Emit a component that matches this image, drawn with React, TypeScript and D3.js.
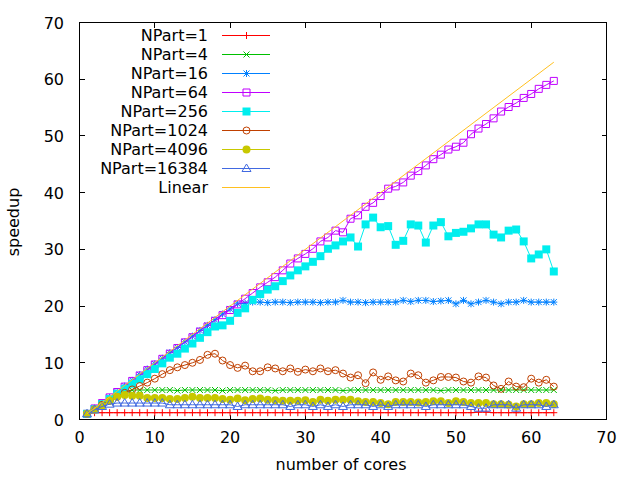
import { useRef, useEffect } from "react";
import * as d3 from "d3";

// number of cores on the x axis
const cores = d3.range(1, 64);

const np1 = [
    1.0, 1.2, 1.2, 1.2, 1.2, 1.2, 1.2, 1.2, 1.2, 1.2,
    1.2, 1.2, 1.2, 1.2, 1.2, 1.2, 1.2, 1.2, 1.2, 1.2,
    1.2, 1.2, 1.2, 1.2, 1.2, 1.2, 1.2, 1.2, 1.2, 1.2,
    1.2, 1.2, 1.2, 1.2, 1.2, 1.2, 1.2, 1.2, 1.2, 1.2,
    1.2, 1.2, 1.2, 1.2, 1.2, 1.2, 1.2, 1.2, 1.2, 1.2,
    1.2, 1.2, 1.3, 1.3, 1.2, 1.2, 1.2, 1.2, 1.2, 1.2,
    1.2, 1.2, 1.2,
];

const np4 = [
    1.0, 1.9, 2.8, 3.6, 4.4, 4.9, 5.2, 5.2, 5.2, 5.2,
    5.2, 5.2, 5.1, 5.2, 5.2, 5.2, 5.2, 5.2, 5.1, 5.2,
    5.2, 5.2, 5.2, 5.2, 5.2, 5.1, 5.2, 5.2, 5.2, 5.2,
    5.2, 5.2, 5.2, 5.2, 5.1, 5.2, 5.2, 5.2, 5.2, 5.2,
    5.2, 5.2, 5.2, 5.2, 5.2, 5.2, 5.2, 5.1, 5.2, 5.2,
    5.2, 5.2, 5.2, 5.2, 5.2, 5.2, 5.2, 5.2, 5.2, 5.2,
    5.2, 5.2, 5.2,
];

const np16 = [
    1.0, 2.0, 2.9, 3.9, 4.9, 5.9, 6.9, 7.9, 8.9, 9.8,
    10.8, 11.8, 12.7, 13.7, 14.7, 15.7, 16.6, 17.6, 18.6, 19.5,
    20.4, 20.5, 20.7, 20.7, 20.6, 20.7, 20.7, 20.6, 20.7, 20.7,
    20.7, 20.6, 20.7, 20.7, 21.0, 20.7, 20.7, 20.6, 20.7, 20.7,
    20.7, 20.7, 21.0, 20.8, 21.0, 21.0, 20.8, 20.9, 21.0, 20.4,
    21.0, 20.4, 20.7, 21.0, 20.7, 20.4, 20.7, 20.7, 21.0, 20.7,
    20.7, 20.7, 20.7,
];

const np64 = [
    1.0, 1.95, 2.9, 3.9, 4.85, 5.8, 6.8, 7.75, 8.7, 9.7,
    10.7, 11.6, 12.6, 13.6, 14.5, 15.5, 16.4, 17.4, 18.4, 19.3,
    20.3, 21.3, 22.3, 23.3, 24.2, 25.1, 26.3, 27.5, 28.4, 29.2,
    30.1, 31.4, 32.1, 33.3, 33.0, 35.4, 36.0, 37.5, 38.2, 39.4,
    40.7, 41.1, 41.8, 43.0, 43.8, 44.8, 45.9, 46.7, 47.6, 48.1,
    48.8, 50.3, 51.3, 52.1, 53.1, 54.3, 55.1, 55.8, 56.7, 57.4,
    58.3, 59.0, 59.7,
];

const np256 = [
    1.0, 1.8, 2.7, 3.6, 4.5, 5.4, 6.3, 7.1, 8.0, 8.9,
    9.9, 10.9, 11.6, 12.5, 13.4, 14.4, 15.4, 16.4, 16.6, 17.4,
    18.8, 19.6, 21.1, 22.1, 22.9, 23.5, 24.4, 25.4, 26.3, 27.0,
    27.8, 28.8, 30.1, 30.7, 31.4, 32.1, 30.5, 34.4, 35.6, 33.9,
    34.1, 30.8, 31.5, 34.4, 34.2, 31.2, 34.2, 34.8, 32.3, 32.9,
    33.1, 33.7, 34.4, 34.4, 32.6, 32.1, 33.3, 33.5, 31.4, 28.4,
    29.1, 30.0, 26.1,
];

const np1024 = [
    1.0, 1.8, 2.6, 3.3, 4.0, 4.7, 5.3, 5.9, 6.5, 7.2,
    8.0, 8.7, 9.2, 9.6, 10.0, 10.5, 11.4, 11.6, 10.4, 9.6,
    9.1, 9.5, 8.5, 8.5, 9.2, 9.0, 8.5, 9.0, 8.4, 8.8,
    8.5, 9.0, 8.5, 8.7, 8.1, 7.4, 7.8, 6.4, 8.3, 7.0,
    7.6, 6.9, 6.7, 8.1, 7.8, 6.5, 6.9, 7.5, 7.5, 7.4,
    6.7, 6.5, 7.6, 7.4, 6.0, 5.4, 6.7, 5.8, 5.7, 7.2,
    6.5, 7.0, 5.8,
];

const np4096 = [
    1.0, 1.7, 2.4, 3.3, 4.0, 4.3, 4.2, 4.2, 3.8, 3.8,
    3.8, 3.6, 3.6, 3.8, 4.0, 3.8, 3.8, 3.8, 3.6, 3.5,
    3.7, 3.4, 3.6, 3.7, 3.5, 3.4, 3.3, 3.3, 3.3, 3.4,
    3.1, 3.5, 3.3, 3.5, 3.5, 3.5, 3.2, 3.1, 3.1, 2.9,
    2.7, 3.1, 3.1, 3.1, 3.0, 3.1, 3.2, 3.2, 2.9, 3.2,
    3.1, 2.9, 2.9, 2.9, 2.7, 2.7, 2.6, 2.3, 2.7, 2.7,
    2.9, 2.9, 2.7,
];

const np16384 = [
    1.0, 1.7, 2.3, 2.7, 2.9, 2.9, 2.9, 2.9, 2.9, 2.9,
    2.9, 2.6, 2.6, 2.6, 2.6, 2.6, 2.6, 2.6, 2.6, 2.6,
    2.3, 2.6, 2.6, 2.6, 2.6, 2.6, 2.6, 2.3, 2.6, 2.6,
    2.3, 2.6, 2.3, 2.6, 2.3, 2.6, 2.6, 2.6, 2.3, 2.6,
    2.3, 2.6, 2.6, 2.6, 2.6, 2.3, 2.6, 2.6, 2.6, 2.6,
    2.6, 2.3, 2.0, 2.0, 2.6, 2.6, 2.6, 2.0, 2.6, 2.6,
    2.6, 2.3, 2.6,
];

// ideal speedup, drawn as a plain line
const linearX = [1, 63];
const linearY = [1, 63];

const xTicks = [0, 10, 20, 30, 40, 50, 60, 70];
const yTicks = [0, 10, 20, 30, 40, 50, 60, 70];

const seriesNames = [
    "NPart=1",
    "NPart=4",
    "NPart=16",
    "NPart=64",
    "NPart=256",
    "NPart=1024",
    "NPart=4096",
    "NPart=16384",
];
const seriesValues = [np1, np4, np16, np64, np256, np1024, np4096, np16384];
const seriesColors = [
    "#ff0000",
    "#00c000",
    "#0080ff",
    "#c000ff",
    "#00eeee",
    "#c04000",
    "#c8c800",
    "#4169e1",
];
const markerTypes = ["plus", "cross", "star", "box", "fbox", "circle", "fcircle", "triangle"];

const FONT = "'DejaVu Sans', sans-serif";

// gnuplot style point shapes, centred on 0,0
const markerPath = (type: string): { d: string; filled: boolean } => {
    switch (type) {
        case "plus":
            return { d: "M-3.5,0H3.5M0,-3.5V3.5", filled: false };
        case "cross":
            return { d: "M-3,-3L3,3M-3,3L3,-3", filled: false };
        case "star":
            return { d: "M-3.5,0H3.5M0,-3.5V3.5M-3,-3L3,3M-3,3L3,-3", filled: false };
        case "box":
            return { d: "M-3.5,-3.5H3.5V3.5H-3.5Z", filled: false };
        case "fbox":
            return { d: "M-4,-4H4V4H-4Z", filled: true };
        case "circle":
            return { d: "M-3.5,0A3.5,3.5 0 1,0 3.5,0A3.5,3.5 0 1,0 -3.5,0Z", filled: false };
        case "fcircle":
            return { d: "M-4,0A4,4 0 1,0 4,0A4,4 0 1,0 -4,0Z", filled: true };
        default:
            return { d: "M0,-4.5L4.5,3H-4.5Z", filled: false };
    }
};

const SpeedupChart = () => {
    const svgRef = useRef<SVGSVGElement>(null);

    useEffect(() => {
        if (!svgRef.current) return;
        const svg = d3.select(svgRef.current);
        svg.selectAll("*").remove();

        const width = 640;
        const height = 480;
        const box = { left: 79.5, right: 606.5, top: 22.5, bottom: 419.5 };

        const x = d3.scaleLinear().domain([0, 70]).range([box.left, box.right]);
        const y = d3.scaleLinear().domain([0, 70]).range([box.bottom, box.top]);

        svg.attr("width", width).attr("height", height);
        svg.append("rect").attr("width", width).attr("height", height).attr("fill", "#fff");

        // border and mirrored inward ticks
        const axes = svg.append("g").attr("stroke", "#000").attr("shape-rendering", "crispEdges");
        axes.append("rect")
            .attr("x", box.left)
            .attr("y", box.top)
            .attr("width", box.right - box.left)
            .attr("height", box.bottom - box.top)
            .attr("fill", "none");
        const tl = 5;
        xTicks.forEach((t) => {
            axes.append("line").attr("x1", x(t)).attr("x2", x(t)).attr("y1", box.bottom).attr("y2", box.bottom - tl);
            axes.append("line").attr("x1", x(t)).attr("x2", x(t)).attr("y1", box.top).attr("y2", box.top + tl);
        });
        yTicks.forEach((t) => {
            axes.append("line").attr("x1", box.left).attr("x2", box.left + tl).attr("y1", y(t)).attr("y2", y(t));
            axes.append("line").attr("x1", box.right).attr("x2", box.right - tl).attr("y1", y(t)).attr("y2", y(t));
        });

        const labels = svg.append("g").attr("font-family", FONT).attr("font-size", 16).attr("fill", "#000");
        labels.selectAll(".xt")
            .data(xTicks)
            .enter()
            .append("text")
            .attr("x", (d) => x(d))
            .attr("y", 443)
            .attr("text-anchor", "middle")
            .text((d) => d);
        labels.selectAll(".yt")
            .data(yTicks)
            .enter()
            .append("text")
            .attr("x", 64)
            .attr("y", (d) => y(d) + 6)
            .attr("text-anchor", "end")
            .text((d) => d);
        labels.append("text")
            .attr("x", 341)
            .attr("y", 470)
            .attr("text-anchor", "middle")
            .text("number of cores");
        labels.append("text")
            .attr("transform", "translate(19,222) rotate(-90)")
            .attr("text-anchor", "middle")
            .text("speedup");

        const line = d3
            .line<number>()
            .x((_, i) => x(cores[i]))
            .y((d) => y(d));

        seriesValues.forEach((vals, si) => {
            const g = svg.append("g");
            const color = seriesColors[si];
            const m = markerPath(markerTypes[si]);
            g.append("path")
                .attr("d", line(vals))
                .attr("fill", "none")
                .attr("stroke", color)
                .attr("stroke-width", 1);
            g.selectAll("path.pt")
                .data(vals)
                .enter()
                .append("path")
                .attr("class", "pt")
                .attr("transform", (d, i) => `translate(${x(cores[i])},${y(d)})`)
                .attr("d", m.d)
                .attr("fill", m.filled ? color : "none")
                .attr("stroke", color)
                .attr("stroke-width", m.filled ? 0 : 1);
        });

        svg.append("path")
            .attr("d", d3.line<number>().x((d) => x(d)).y((_, i) => y(linearY[i]))(linearX))
            .attr("fill", "none")
            .attr("stroke", "#ffc020")
            .attr("stroke-width", 1);

        // legend, top left inside the box
        const legend = svg.append("g").attr("font-family", FONT).attr("font-size", 16);
        const names = [...seriesNames, "Linear"];
        names.forEach((name, i) => {
            const cy = 35 + i * 19;
            const color = i < seriesColors.length ? seriesColors[i] : "#ffc020";
            legend.append("text")
                .attr("x", 208)
                .attr("y", cy + 6)
                .attr("text-anchor", "end")
                .attr("fill", "#000")
                .text(name);
            legend.append("line")
                .attr("x1", 222)
                .attr("x2", 270)
                .attr("y1", cy + 0.5)
                .attr("y2", cy + 0.5)
                .attr("stroke", color);
            if (i < markerTypes.length) {
                const m = markerPath(markerTypes[i]);
                legend.append("path")
                    .attr("transform", `translate(246.5,${cy + 0.5})`)
                    .attr("d", m.d)
                    .attr("fill", m.filled ? color : "none")
                    .attr("stroke", color)
                    .attr("stroke-width", m.filled ? 0 : 1);
            }
        });
    }, []);

    return <svg ref={svgRef} style={{ position: "absolute", left: 0, top: 0, display: "block" }} />;
};

export default function App() {
    return <SpeedupChart />;
}
